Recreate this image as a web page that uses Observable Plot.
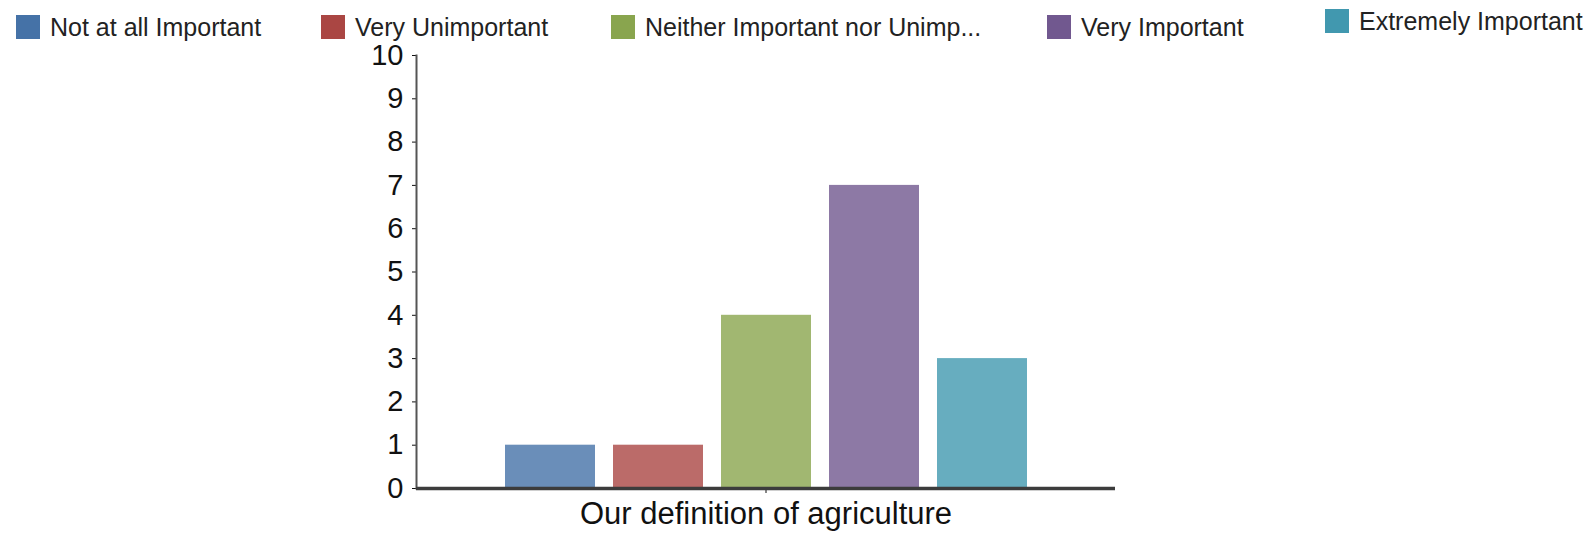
<!DOCTYPE html>
<html>
<head>
<meta charset="utf-8">
<script src="https://cdn.jsdelivr.net/npm/d3@7"></script>
<script src="https://cdn.jsdelivr.net/npm/@observablehq/plot@0.6"></script>
<style>
  html, body { margin: 0; padding: 0; background: #fff; }
  body { width: 1593px; height: 533px; overflow: hidden; font-family: "Liberation Sans", Arial, sans-serif; }
  #legend { position: relative; height: 40px; width: 1593px; }
  .item { position: absolute; display: flex; align-items: center; height: 24px; font-size: 25px; color: #222; white-space: nowrap; }
  .sw { width: 24px; height: 24px; margin-right: 10px; }
</style>
</head>
<body>
<div id="legend"></div>
<div id="chart"></div>
<script>
// ---- data ----
const category = "Our definition of agriculture";
const responses = ["Not at all Important", "Very Unimportant", "Neither Important nor Unimportant", "Very Important", "Extremely Important"];
const legendLabels = ["Not at all Important", "Very Unimportant", "Neither Important nor Unimp...", "Very Important", "Extremely Important"];
const counts = [1, 1, 4, 7, 3];
const yTicks = [0, 1, 2, 3, 4, 5, 6, 7, 8, 9, 10];

// ---- styling / layout ----
const colors = ["#4572A7", "#AA4643", "#89A54E", "#71588F", "#4198AF"];
const legendLeft = [16, 321, 611, 1047, 1325];
const legendTop = [15, 15, 15, 15, 9];

const legend = document.getElementById("legend");
legendLabels.forEach((lab, i) => {
  const it = document.createElement("div");
  it.className = "item";
  it.style.left = legendLeft[i] + "px";
  it.style.top = legendTop[i] + "px";
  const sw = document.createElement("div");
  sw.className = "sw";
  sw.style.background = colors[i];
  const tx = document.createElement("span");
  tx.textContent = lab;
  it.appendChild(sw);
  it.appendChild(tx);
  legend.appendChild(it);
});

const data = responses.map((r, i) => ({category, response: r, count: counts[i]}));

const chart = Plot.plot({
  width: 1593,
  height: 493,
  marginTop: 15,
  marginBottom: 45,
  marginLeft: 416,
  marginRight: 478,
  style: {fontFamily: "'Liberation Sans', Arial, sans-serif", background: "white", color: "#111"},
  fx: {domain: [category], padding: 0, label: null},
  x: {domain: responses, paddingInner: 0.17, paddingOuter: 0.8, axis: null},
  y: {domain: [0, 10], label: null},
  color: {domain: responses, range: colors},
  marks: [
    Plot.barY(data, {fx: "category", x: "response", y: "count", fill: "response", fillOpacity: 0.8}),
    Plot.axisY({ticks: yTicks, tickSize: 4, tickPadding: 9, fontSize: 29, label: null, tickFormat: d => String(d)}),
    Plot.axisFx({anchor: "bottom", tickSize: 5, tickPadding: 8, fontSize: 31, label: null}),
    Plot.frame({anchor: "left", stroke: "#555", strokeWidth: 2}),
    Plot.ruleY([0], {stroke: "#3c3c3c", strokeWidth: 3.5})
  ]
});
document.getElementById("chart").appendChild(chart);
</script>
</body>
</html>
